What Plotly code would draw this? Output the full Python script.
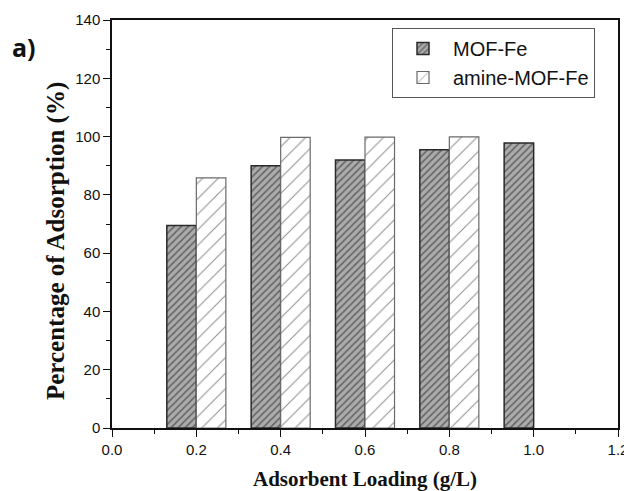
import plotly.graph_objects as go

loading = [0.2, 0.4, 0.6, 0.8, 1.0]
mof_fe = [69.5, 90.0, 92.0, 95.5, 97.8]
loading_amine = [0.2, 0.4, 0.6, 0.8]
amine_mof_fe = [85.8, 99.7, 99.8, 99.9]

x_ticks = [0.0, 0.2, 0.4, 0.6, 0.8, 1.0, 1.2]
x_tick_labels = ["0.0", "0.2", "0.4", "0.6", "0.8", "1.0", "1.2"]
y_ticks = [0, 20, 40, 60, 80, 100, 120, 140]

fig = go.Figure()
fig.add_trace(go.Bar(
    x=loading, y=mof_fe, name="MOF-Fe",
    marker=dict(color="#ababab",
                line=dict(color="#2a2a2a", width=1.5),
                pattern=dict(shape="/", size=5, solidity=0.3,
                             fgcolor="#1a1a1a", bgcolor="#ababab")),
))
fig.add_trace(go.Bar(
    x=loading_amine, y=amine_mof_fe, name="amine-MOF-Fe",
    marker=dict(color="white",
                line=dict(color="#6a6a6a", width=1.2),
                pattern=dict(shape="/", size=11, solidity=0.09,
                             fgcolor="#1a1a1a", bgcolor="white")),
))

axis_common = dict(
    showline=True, linecolor="#111", linewidth=1.5, mirror=True,
    ticks="outside", tickcolor="#111", tickwidth=1.3, ticklen=7,
    showgrid=False, zeroline=False, automargin=False,
    tickfont=dict(family="Liberation Sans, Arial", size=15, color="#111"),
    minor=dict(ticks="outside", ticklen=4, tickcolor="#111", tickwidth=1.2),
)

# page has an 8px body margin; work in figure coordinates
OFF = 8
W, H = 632 - OFF, 491 - OFF
PL, PR, PT, PB = 112 - OFF, 618 - OFF, 20 - OFF, 428 - OFF


def px_x(x):
    return (x - OFF - PL) / (PR - PL)


def px_y(y):
    return (PB - (y - OFF)) / (PB - PT)


fig.update_layout(
    width=W, height=H,
    margin=dict(l=PL, r=W - PR, t=PT, b=H - PB),
    paper_bgcolor="white", plot_bgcolor="white",
    barmode="group", bargap=0.3, bargroupgap=0,
    showlegend=True,
    legend=dict(x=px_x(392), y=px_y(28),
                xanchor="left", yanchor="top",
                bordercolor="#555", borderwidth=1, bgcolor="white",
                font=dict(family="Liberation Sans, Arial", size=20, color="#111"),
                tracegroupgap=0, itemwidth=50),
    xaxis=dict(range=[0, 1.2], tickvals=x_ticks, ticktext=x_tick_labels,
               title=dict(text="<b>Adsorbent Loading (g/L)</b>", standoff=16,
                          font=dict(family="Liberation Serif, Times New Roman", size=21, color="#111")),
               **axis_common),
    yaxis=dict(range=[0, 140], tickvals=y_ticks, **axis_common),
    annotations=[
        dict(text="<b>a)</b>", x=px_x(24), y=px_y(47),
             xref="paper", yref="paper", xanchor="center", yanchor="middle",
             showarrow=False,
             font=dict(family="Open Sans, Liberation Sans", size=25, color="#111")),
        dict(text="<b>Percentage of Adsorption (%)</b>", x=px_x(56), y=px_y(241),
             xref="paper", yref="paper", xanchor="center", yanchor="middle",
             textangle=-90, showarrow=False,
             font=dict(family="Liberation Serif, Times New Roman", size=25, color="#111")),
    ],
)
fig.update_xaxes(minor=dict(dtick=0.1))
fig.update_yaxes(minor=dict(dtick=10))

fig.write_html("out.html")
